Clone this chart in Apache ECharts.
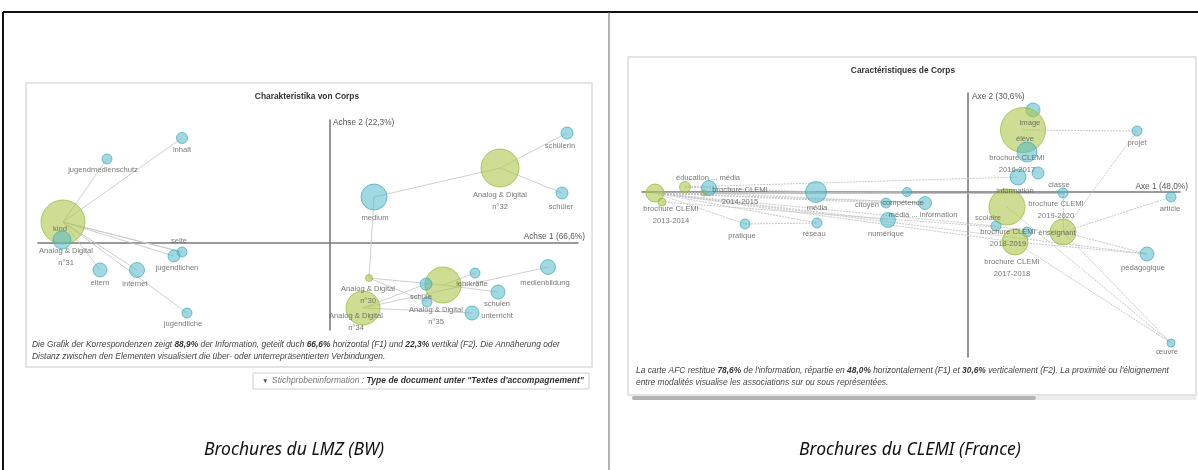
<!DOCTYPE html>
<html><head><meta charset="utf-8">
<script src="https://cdn.jsdelivr.net/npm/echarts@6/dist/echarts.min.js"></script>
<style>html,body{margin:0;padding:0;background:#fff}#c{width:1198px;height:470px}</style>
</head><body><div id="c"></div>
<script>
// ---- LMZ (BW) correspondence map : [name, F1, F2, mass, type]
const lmzPoints = [
  ['kind', -1.335, 0.105, 44, 'col'],
  ['ad31', -1.34, 0.015, 18, 'row'],
  ['jugendmedienschutz', -1.115, 0.42, 10, 'row'],
  ['inhalt', -0.74, 0.525, 11, 'row'],
  ['seite', -0.74, -0.045, 10, 'row'],
  ['jugendlichen', -0.78, -0.065, 12, 'row'],
  ['eltern', -1.15, -0.135, 14, 'row'],
  ['internet', -0.965, -0.135, 15, 'row'],
  ['jugendliche', -0.715, -0.35, 10, 'row'],
  ['medium', 0.22, 0.23, 26, 'row'],
  ['ad32', 0.85, 0.375, 38, 'col'],
  ['schülerin', 1.185, 0.55, 12, 'row'],
  ['schüler', 1.16, 0.25, 12, 'row'],
  ['ad30', 0.195, -0.175, 7, 'col'],
  ['ad34', 0.165, -0.325, 34, 'col'],
  ['ad35', 0.565, -0.21, 36, 'col'],
  ['schule', 0.48, -0.205, 12, 'row'],
  ['schule2', 0.485, -0.295, 10, 'row'],
  ['lehrkräfte', 0.725, -0.15, 10, 'row'],
  ['medienbildung', 1.09, -0.12, 15, 'row'],
  ['schulen', 0.84, -0.245, 14, 'row'],
  ['unterricht', 0.71, -0.35, 14, 'row']
];
const lmzLinks = [
  ['kind','jugendmedienschutz'],['kind','inhalt'],['kind','seite'],['kind','jugendlichen'],
  ['kind','eltern'],['kind','internet'],['kind','jugendliche'],['kind','seite'],
  ['medium','ad32'],['ad32','schülerin'],['ad32','schüler'],['medium','ad30'],
  ['ad30','schule2'],['ad30','ad35'],['ad34','medienbildung'],['ad34','unterricht'],
  ['ad35','schulen'],['ad35','lehrkräfte'],['ad34','schule']
];
const lmzLabels = [
  ['inhalt', -0.74, 0.465], ['jugendmedienschutz', -1.135, 0.365], ['kind', -1.35, 0.07],
  ['Analog & Digital\nn°31', -1.32, -0.07], ['seite', -0.755, 0.01], ['jugendlichen', -0.765, -0.125],
  ['eltern', -1.15, -0.2], ['internet', -0.975, -0.205], ['jugendliche', -0.735, -0.405],
  ['medium', 0.225, 0.125], ['Analog & Digital\nn°32', 0.85, 0.21], ['schülerin', 1.15, 0.485],
  ['schüler', 1.155, 0.18], ['Analog & Digital\nn°30', 0.19, -0.26], ['Analog & Digital\nn°34', 0.13, -0.395],
  ['schule', 0.455, -0.27], ['lehrkräfte', 0.71, -0.205], ['Analog & Digital\nn°35', 0.53, -0.365],
  ['schulen\nunterricht', 0.835, -0.335], ['medienbildung', 1.075, -0.2]
];
// ---- CLEMI (France) correspondence map
const clemiPoints = [
  ['b1314', -1.565, -0.005, 18, 'col'],
  ['b1314b', -1.53, -0.05, 8, 'col'],
  ['éducation', -1.415, 0.025, 11, 'col'],
  ['b1415', -1.32, -0.005, 6, 'col'],
  ['média1', -1.295, 0.02, 15, 'row'],
  ['média2', -0.76, 0.0, 21, 'row'],
  ['pratique', -1.115, -0.16, 10, 'row'],
  ['réseau', -0.755, -0.155, 10, 'row'],
  ['numérique', -0.4, -0.14, 15, 'row'],
  ['citoyen', -0.41, -0.055, 10, 'row'],
  ['compétence', -0.305, 0.0, 9, 'row'],
  ['information', -0.215, -0.055, 13, 'row'],
  ['image', 0.325, 0.41, 14, 'row'],
  ['b1617', 0.275, 0.31, 45, 'col'],
  ['élève', 0.295, 0.2, 20, 'row'],
  ['info2', 0.25, 0.075, 16, 'row'],
  ['info3', 0.35, 0.095, 12, 'row'],
  ['projet', 0.845, 0.305, 10, 'row'],
  ['classe', 0.475, -0.005, 10, 'row'],
  ['scolaire', 0.195, -0.075, 36, 'col'],
  ['sc2', 0.14, -0.17, 10, 'row'],
  ['sc3', 0.295, -0.2, 10, 'row'],
  ['b1819', 0.235, -0.25, 26, 'col'],
  ['enseignant', 0.475, -0.2, 26, 'col'],
  ['article', 1.015, -0.025, 10, 'row'],
  ['pédagogique', 0.895, -0.31, 14, 'row'],
  ['œuvre', 1.015, -0.755, 8, 'row']
];
const clemiLinks = [
  ['b1314','média2'],['b1314','citoyen'],['b1314','compétence'],['b1314','information'],
  ['b1314','classe'],['b1314','pratique'],['b1314','réseau'],['b1314','numérique'],
  ['b1314','pédagogique'],['b1314','b1819'],['b1314','sc2'],['b1314b','enseignant'],
  ['b1415','média2'],['b1415','compétence'],['b1415','information'],['b1415','classe'],
  ['éducation','média2'],['éducation','info2'],['b1617','projet'],['enseignant','projet'],
  ['enseignant','article'],['enseignant','pédagogique'],['enseignant','œuvre'],['classe','enseignant'],
  ['scolaire','œuvre'],['b1819','pédagogique'],['b1819','œuvre'],['pratique','réseau']
];
const clemiLabels = [
  ['éducation ... média', -1.3, 0.07], ['brochure CLEMI\n2014-2015', -1.14, -0.02],
  ['brochure CLEMI\n2013-2014', -1.485, -0.115], ['média', -0.755, -0.08], ['pratique', -1.13, -0.22],
  ['réseau', -0.77, -0.21], ['numérique', -0.41, -0.21], ['citoyen', -0.505, -0.065],
  ['compétence', -0.325, -0.055], ['média ... information', -0.225, -0.115], ['image', 0.31, 0.345],
  ['élève', 0.285, 0.265], ['brochure CLEMI\n2016-2017', 0.245, 0.14], ['projet', 0.845, 0.245],
  ['classe', 0.455, 0.035], ['information', 0.235, 0.005], ['brochure CLEMI\n2019-2020', 0.44, -0.09],
  ['scolaire', 0.1, -0.13], ['brochure CLEMI\n2018-2019', 0.2, -0.23], ['enseignant', 0.445, -0.205],
  ['brochure CLEMI\n2017-2018', 0.22, -0.38], ['article', 1.01, -0.085], ['pédagogique', 0.875, -0.38],
  ['œuvre', 0.995, -0.8]
];
const axisNames = ['Achse 1 (66,6%)', 'Achse 2 (22,3%)', 'Axe 1 (48,0%)', 'Axe 2 (30,6%)'];
const titles = ['Charakteristika von Corps', 'Caractéristiques de Corps'];
const subtitles = ['Brochures du LMZ (BW)', 'Brochures du CLEMI (France)'];

const F = 'Liberation Sans, Arial, sans-serif';
const GREEN = 'rgba(170,196,70,0.72)', GREEN_B = 'rgba(150,178,50,0.85)';
const TEAL = 'rgba(80,184,202,0.68)', TEAL_B = 'rgba(60,165,185,0.85)';

function bubbles(points, gi) {
  return {
    type: 'scatter', xAxisIndex: gi, yAxisIndex: gi, z: 3,
    data: points.map(p => ({ name: p[0], value: [p[1], p[2]], symbolSize: p[3],
      itemStyle: { color: p[4] === 'col' ? GREEN : TEAL, borderColor: p[4] === 'col' ? GREEN_B : TEAL_B, borderWidth: 1 } })),
    silent: true
  };
}
function edges(points, links, gi, style) {
  const m = {}; points.forEach(p => m[p[0]] = [p[1], p[2]]);
  return {
    type: 'lines', coordinateSystem: 'cartesian2d', xAxisIndex: gi, yAxisIndex: gi, z: 2,
    data: links.map(l => ({ coords: [m[l[0]], m[l[1]]] })),
    lineStyle: style, silent: true
  };
}
function labels(list, gi) {
  return {
    type: 'scatter', xAxisIndex: gi, yAxisIndex: gi, z: 5, symbolSize: 0, silent: true,
    data: list.map(l => ({ name: l[0], value: [l[1], l[2]] })),
    label: { show: true, position: 'inside', formatter: p => p.name, color: '#555', fontSize: 7.6, fontFamily: F, lineHeight: 11.5 }
  };
}
function axis(min, max, gi) {
  return { type: 'value', gridIndex: gi, min: min, max: max, splitLine: { show: false }, axisLabel: { show: false },
    axisTick: { show: false }, axisLine: { show: true, onZero: true, lineStyle: { color: '#7a7a7a', width: 1.6 } } };
}
function txt(x, y, t, o) { return Object.assign({ type: 'text', x: x, y: y, z: 50,
  style: Object.assign({ text: t, fontFamily: F, fontSize: 8, fill: '#444' }, o || {}) }); }
const capRich = { a: { fontFamily: F, fontSize: 8.4, fontStyle: 'italic', fill: '#444' },
                  b: { fontFamily: F, fontSize: 8.4, fontStyle: 'italic', fontWeight: 'bold', fill: '#333' } };

const chart = echarts.init(document.getElementById('c'), null, { renderer: 'canvas' });
chart.setOption({
  animation: false,
  grid: [
    { left: 38, width: 540, top: 120, height: 210 },
    { left: 642, width: 538, top: 93, height: 264 }
  ],
  xAxis: [axis(-1.46, 1.24, 0), axis(-1.63, 1.06, 1)],
  yAxis: [axis(-0.435, 0.615, 0), axis(-0.825, 0.495, 1)],
  series: [
    edges(lmzPoints, lmzLinks, 0, { color: '#c9c9c9', width: 0.9, opacity: 1 }),
    bubbles(lmzPoints, 0), labels(lmzLabels, 0),
    edges(clemiPoints, clemiLinks, 1, { color: '#c2c2c2', width: 0.9, type: [2, 1], opacity: 1 }),
    bubbles(clemiPoints, 1), labels(clemiLabels, 1)
  ],
  graphic: [
    { type: 'line', z: -5, shape: { x1: 3, y1: 12, x2: 1198, y2: 12 }, style: { stroke: '#111', lineWidth: 2 } },
    { type: 'line', z: -5, shape: { x1: 3, y1: 12, x2: 3, y2: 470 }, style: { stroke: '#111', lineWidth: 2 } },
    { type: 'line', z: -5, shape: { x1: 609, y1: 12, x2: 609, y2: 470 }, style: { stroke: '#666', lineWidth: 1 } },
    { type: 'rect', z: -10, shape: { x: 26, y: 83, width: 566, height: 284 }, style: { fill: '#fff', stroke: '#dcdcdc', lineWidth: 1.5 } },
    { type: 'rect', z: -10, shape: { x: 628, y: 57, width: 568, height: 338 }, style: { fill: '#fff', stroke: '#dcdcdc', lineWidth: 1.5 } },
    { type: 'rect', z: -9, shape: { x: 632, y: 396, width: 564, height: 4 }, style: { fill: '#ececec' } },
    { type: 'rect', z: -8, shape: { x: 632, y: 396, width: 404, height: 4, r: 2 }, style: { fill: '#b4b4b4' } },
    { type: 'rect', z: 40, shape: { x: 253, y: 373, width: 336, height: 16 }, style: { fill: '#fff', stroke: '#cfcfcf', lineWidth: 1 } },
    txt(262, 381, '▼', { fontSize: 6.5, fill: '#555', verticalAlign: 'middle' }),
    txt(272, 381, '{a|Stichprobeninformation : }{b|Type de document unter "Textes d\'accompagnement"}', {
      verticalAlign: 'middle', rich: { a: { fontFamily: F, fontSize: 8.5, fontStyle: 'italic', fill: '#777' },
        b: { fontFamily: F, fontSize: 8.5, fontStyle: 'italic', fontWeight: 'bold', fill: '#333' } } }),
    txt(307, 97, titles[0], { fontWeight: 'bold', fontSize: 8.4, fill: '#333', align: 'center', verticalAlign: 'middle' }),
    txt(903, 71, titles[1], { fontWeight: 'bold', fontSize: 8.4, fill: '#333', align: 'center', verticalAlign: 'middle' }),
    txt(333, 123, axisNames[1], { fill: '#555', fontSize: 8.3, verticalAlign: 'middle' }),
    txt(585, 237, axisNames[0], { fill: '#555', fontSize: 8.3, align: 'right', verticalAlign: 'middle' }),
    txt(972, 97, axisNames[3], { fill: '#555', fontSize: 8.3, verticalAlign: 'middle' }),
    txt(1188, 187, axisNames[2], { fill: '#555', fontSize: 8.3, align: 'right', verticalAlign: 'middle' }),
    txt(32, 345, '{a|Die Grafik der Korrespondenzen zeigt }{b|88,9%}{a| der Information, geteilt duch }{b|66,6%}{a| horizontal (F1) und }{b|22,3%}{a| vertikal (F2). Die Annäherung oder}', {
      verticalAlign: 'middle', rich: capRich }),
    txt(32, 357, 'Distanz zwischen den Elementen visualisiert die über- oder unterrepräsentierten Verbindungen.', { fontSize: 8.4, fontStyle: 'italic', verticalAlign: 'middle' }),
    txt(636, 371, '{a|La carte AFC restitue }{b|78,6%}{a| de l\'information, répartie en }{b|48,0%}{a| horizontalement (F1) et }{b|30,6%}{a| verticalement (F2). La proximité ou l\'éloignement}', {
      verticalAlign: 'middle', rich: capRich }),
    txt(636, 383, 'entre modalités visualise les associations sur ou sous représentées.', { fontSize: 8.4, fontStyle: 'italic', verticalAlign: 'middle' }),
    txt(294, 450, subtitles[0], { fontFamily: 'Noto Sans, sans-serif', fontStyle: 'italic', fontSize: 17.5, fill: '#111', align: 'center', verticalAlign: 'middle' }),
    txt(910, 450, subtitles[1], { fontFamily: 'Noto Sans, sans-serif', fontStyle: 'italic', fontSize: 17.5, fill: '#111', align: 'center', verticalAlign: 'middle' })
  ]
});
</script></body></html>
